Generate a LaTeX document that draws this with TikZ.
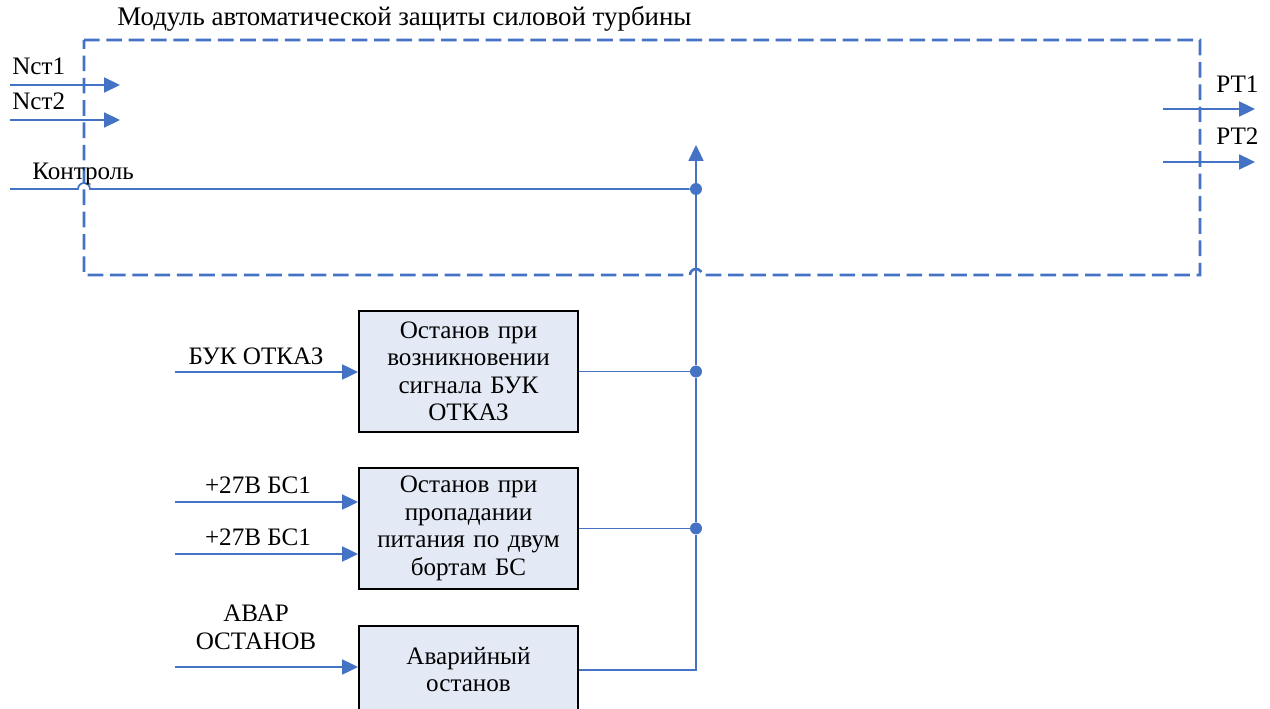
\documentclass[tikz,border=0pt]{standalone}
\usepackage{fontspec}
\setmainfont{Liberation Serif}
\usepackage{xcolor}
\usepackage{tikz}
\usetikzlibrary{arrows.meta, positioning}

\definecolor{lineblue}{RGB}{68,114,196}
\definecolor{boxfill}{RGB}{228,234,245}

\tikzset{
    sig/.style={draw=lineblue, line width=1pt},
    sigarrow/.style={sig, -{Triangle[length=9pt, width=8.5pt]}},
    block/.style={draw=black, line width=1.1pt, fill=boxfill, align=center,
        text width=4.2cm, minimum width=4.38cm, minimum height=2.42cm,
        inner sep=0pt, font=\fontsize{14.3}{15.6}\selectfont},
    lbl/.style={inner sep=0pt, font=\fontsize{14.3}{15.6}\selectfont},
    junc/.style={circle, fill=lineblue, inner sep=0pt, minimum size=6.8pt},
    modframe/.style={draw=lineblue, line width=1.5pt, dash pattern=on 8.9pt off 3.8pt},
}

\begin{document}
\begin{tikzpicture}[x=0.02cm, y=-0.02cm]
    \useasboundingbox (0,0) rectangle (1270,709);

    % Рамка модуля
    \node[lbl, anchor=base west, font=\fontsize{15.3}{17}\selectfont] (title) at (117,26) {Модуль автоматической защиты силовой турбины};
    \draw[modframe] (84,40) -- (1200,40) -- (1200,275) -- (702,275)
        arc[start angle=0, end angle=180, radius=0.12cm] -- (84,275) -- cycle;

    % Входы модуля
    \coordinate (nst1) at (10,85);
    \coordinate (nst1e) at (120,85);
    \coordinate (nst2) at (10,120);
    \coordinate (nst2e) at (120,120);
    \draw[sigarrow] (nst1) -- (nst1e);
    \draw[sigarrow] (nst2) -- (nst2e);
    \node[lbl, anchor=base west] (nst1L) at (12,75) {Nст1};
    \node[lbl, anchor=base west] (nst2L) at (12,110) {Nст2};

    % Выходы модуля
    \coordinate (rt1) at (1163,109);
    \coordinate (rt1e) at (1255,109);
    \coordinate (rt2) at (1163,162);
    \coordinate (rt2e) at (1255,162);
    \draw[sigarrow] (rt1) -- (rt1e);
    \draw[sigarrow] (rt2) -- (rt2e);
    \node[lbl, anchor=base west] (rt1L) at (1216,93) {РТ1};
    \node[lbl, anchor=base west] (rt2L) at (1216,145) {РТ2};

    % Блоки останова
    \node[block] (buk) at (468.5,371.5) {Останов при\\возникновении\\сигнала БУК\\ОТКАЗ};
    \node[block, below=0.68cm of buk] (pit) {Останов при\\пропадании\\питания по двум\\бортам БС};
    \node[block, below=0.7cm of pit, minimum height=1.76cm] (avar) {Аварийный\\останов};

    % Входы блоков
    \coordinate (bukin) at (175,372);
    \coordinate (bs1) at (175,502);
    \coordinate (bs2) at (175,554);
    \coordinate (avin) at (175,667);
    \draw[sigarrow] (bukin) -- (bukin -| buk.west);
    \draw[sigarrow] (bs1) -- (bs1 -| pit.west);
    \draw[sigarrow] (bs2) -- (bs2 -| pit.west);
    \draw[sigarrow] (avin) -- (avin -| avar.west);
    \node[lbl, anchor=base] (bukL) at (256,364) {БУК ОТКАЗ};
    \node[lbl, anchor=base] (bs1L) at (258,493) {+27В БС1};
    \node[lbl, anchor=base] (bs2L) at (258,545) {+27В БС1};
    \node[lbl, anchor=south, align=center] (avL) at (256,650) {АВАР\\ОСТАНОВ};

    % Шина контроля
    \coordinate (bus) at (696,145);
    \node[junc] (j0) at (696,189) {};
    \node[junc] (j1) at (bus |- buk.east) {};
    \node[junc] (j2) at (bus |- pit.east) {};
    \coordinate (j3) at (bus |- avar.east);
    \draw[sig] (buk.east) -- (j1);
    \draw[sig] (pit.east) -- (j2);
    \draw[sig] (avar.east) -- (j3) -- (j2) -- (j1) -- (j0);
    \draw[sigarrow] (j0) -- (bus);

    \coordinate (ctrl) at (10,189);
    \draw[sig] (ctrl) -- ++(68,0) arc[start angle=180, end angle=0, radius=0.12cm] -- (j0);
    \node[lbl, anchor=base west] (ctrlL) at (32,180) {Контроль};
\end{tikzpicture}
\end{document}
